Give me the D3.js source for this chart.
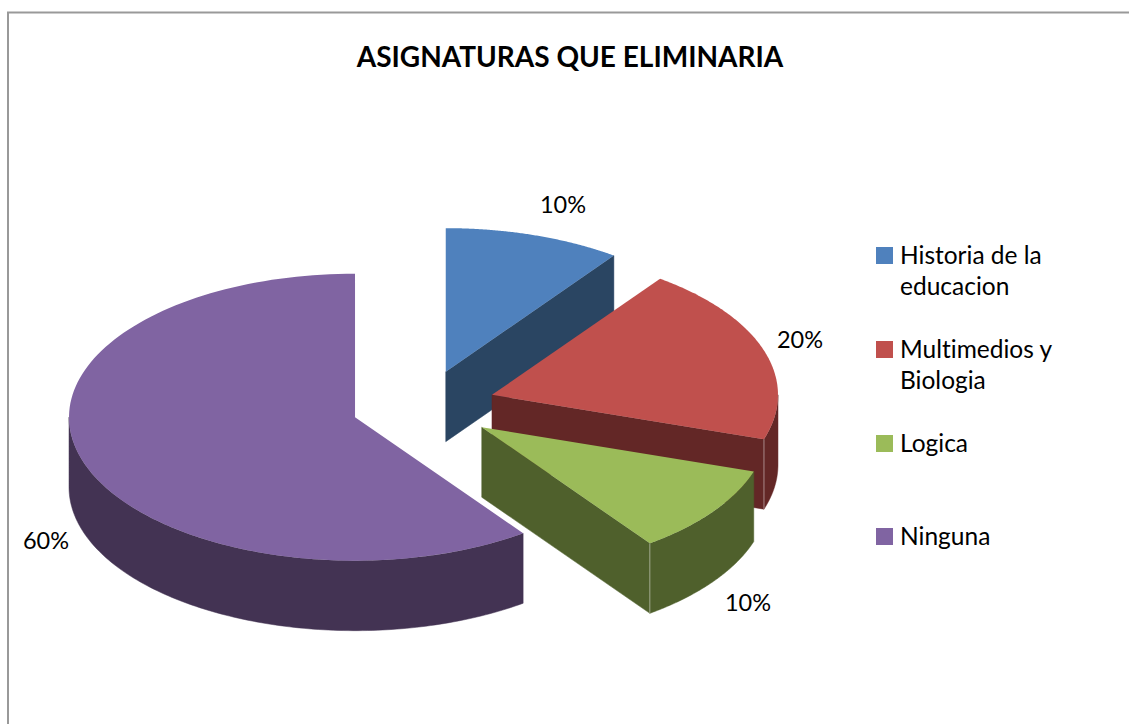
<!DOCTYPE html>
<html>
<head>
<meta charset="utf-8">
<script src="https://cdn.jsdelivr.net/npm/d3@7"></script>
<style>
html,body{margin:0;padding:0;background:#fff;overflow:hidden}
svg{display:block}
text{font-family:Lato,"Open Sans",sans-serif;fill:#000;font-variant-ligatures:none;font-feature-settings:"liga" 0}
</style>
</head>
<body>
<script>
const categories = ["Historia de la educacion", "Multimedios y Biologia", "Logica", "Ninguna"];
const values = [10, 20, 10, 60];
const labels = ["10%", "20%", "10%", "60%"];
const legendLines = [["Historia de la", "educacion"], ["Multimedios y", "Biologia"], ["Logica"], ["Ninguna"]];
const topColors = ["#4F81BD", "#C0504D", "#9BBB59", "#8064A2"];
const sideColors = ["#2A4562", "#632726", "#4F602C", "#433353"];
const title = "ASIGNATURAS QUE ELIMINARIA";

const W = 1129, H = 724;
const cx = 423.5, cy = 406, rx = 286, ry = 143.5, depth = 70, explode = 72;

const svg = d3.select("body").append("svg").attr("width", W).attr("height", H);

// frame
svg.append("path").attr("d", `M8,${H}V12.5H${W}`).attr("fill", "none")
  .attr("stroke", "#999").attr("stroke-width", 2);

svg.append("text").attr("x", 570).attr("y", 67).attr("text-anchor", "middle")
  .attr("font-size", 28).attr("font-weight", 700).text(title);

const arcs = d3.pie().sort(null).value(d => d)(values);
const slices = arcs.map((a, i) => {
  const mid = (a.startAngle + a.endAngle) / 2;
  return {
    i, a,
    c: [cx + explode * Math.sin(mid), cy - explode * (ry / rx) * Math.cos(mid)]
  };
});
const pt = (s, ang, dy = 0) => [s.c[0] + rx * Math.sin(ang), s.c[1] - ry * Math.cos(ang) + dy];
const line = d3.line();
const arcPts = (s, a0, a1, dy = 0) =>
  d3.range(0, 129).map(k => pt(s, a0 + (a1 - a0) * k / 128, dy));

const g = svg.append("g");

function wall(s, ang) {
  const e = pt(s, ang);
  g.append("path")
    .attr("d", line([s.c, e, [e[0], e[1] + depth], [s.c[0], s.c[1] + depth]]) + "Z")
    .attr("fill", sideColors[s.i]).attr("stroke", sideColors[s.i]).attr("stroke-width", 0.5);
}
function rim(s, a0, a1) {
  const upper = arcPts(s, a0, a1);
  const lower = arcPts(s, a1, a0, depth);
  g.append("path").attr("d", line(upper.concat(lower)) + "Z")
    .attr("fill", sideColors[s.i]).attr("stroke", sideColors[s.i]).attr("stroke-width", 0.5);
}
function edge(s, ang) {
  const e = pt(s, ang);
  g.append("path").attr("d", line([e, [e[0], e[1] + depth]]))
    .attr("stroke", "#fff").attr("stroke-opacity", 0.45).attr("stroke-width", 1).attr("fill", "none");
}
function topFace(s) {
  g.append("path")
    .attr("d", line([s.c].concat(arcPts(s, s.a.startAngle, s.a.endAngle))) + "Z")
    .attr("fill", topColors[s.i]);
}

// drawn back to front, visible sides only
slices.forEach(s => {
  const { startAngle: a0, endAngle: a1 } = s.a;
  const visA0 = Math.max(a0, Math.PI / 2), visA1 = Math.min(a1, Math.PI * 1.5);
  if (a1 <= Math.PI) wall(s, a1);
  if (visA1 > visA0) rim(s, visA0, visA1);
  if (a1 <= Math.PI && a1 > Math.PI / 2) edge(s, a1);
  topFace(s);
});

// data labels
const labelAnchors = [[563, 213], [800, 348], [748, 611], [46, 549]];
labels.forEach((t, i) => {
  svg.append("text").attr("x", labelAnchors[i][0]).attr("y", labelAnchors[i][1])
    .attr("text-anchor", "middle").attr("font-size", 23.5).text(t);
});

// legend
const legendY = [247, 341, 435, 528];
categories.forEach((c, i) => {
  svg.append("rect").attr("x", 876).attr("y", legendY[i]).attr("width", 17).attr("height", 17)
    .attr("fill", topColors[i]);
  legendLines[i].forEach((t, k) => {
    svg.append("text").attr("x", 900).attr("y", legendY[i] + 17 + k * 31)
      .attr("font-size", 24.5).text(t);
  });
});
</script>
</body>
</html>
